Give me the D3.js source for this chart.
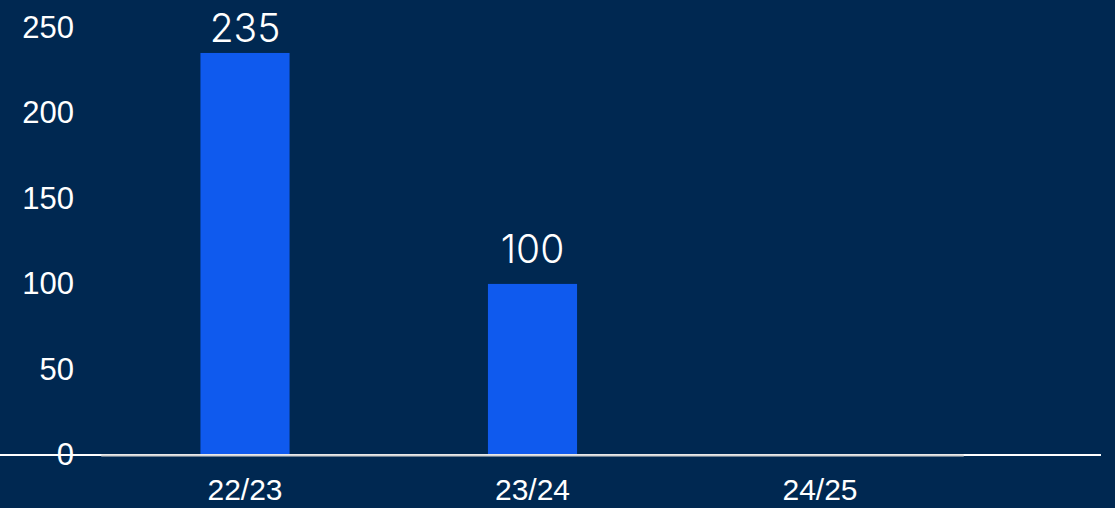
<!DOCTYPE html>
<html>
<head>
<meta charset="utf-8">
<script src="https://cdn.jsdelivr.net/npm/d3@7"></script>
<style>
html,body{margin:0;padding:0;background:#002851;}
svg{display:block;}
</style>
</head>
<body>
<svg id="chart" width="1115" height="508"></svg>
<script>
const categories = ["22/23", "23/24", "24/25"];
const values = [235, 100, 0];
const yTicks = [0, 50, 100, 150, 200, 250];

const W = 1115, H = 508;
const svg = d3.select("#chart");
svg.append("rect").attr("width", W).attr("height", H).attr("fill", "#002851");

const x = d3.scaleBand().domain(categories).range([101.25, 963.75]).paddingInner(0.69).paddingOuter(0.345);
const y = d3.scaleLinear().domain([0, 250]).range([455, 27.3]);

// bars
svg.selectAll("rect.bar").data(values).enter().append("rect")
  .attr("class", "bar")
  .attr("x", (d, i) => x(categories[i]))
  .attr("width", x.bandwidth())
  .attr("y", d => y(d))
  .attr("height", d => y(0) - y(d))
  .attr("fill", "#0F5AEE");

// data labels (kept inside the chart area at the top)
const labelData = values.map((v, i) => ({c: categories[i], v})).filter(d => d.v > 0);
svg.selectAll("text.val").data(labelData).enter().append("text")
  .attr("class", "val")
  .attr("x", d => x(d.c) + x.bandwidth() / 2)
  .attr("y", d => Math.max(y(d.v) - 21, 42))
  .attr("text-anchor", "middle")
  .attr("fill", "#ffffff")
  .attr("font-family", "Inter, 'Open Sans', sans-serif")
  .attr("font-weight", 300)
  .attr("font-size", 39)
  .text(d => d.v);

// baseline
svg.append("line").attr("x1", 0).attr("x2", 1101).attr("y1", y(0)).attr("y2", y(0))
  .attr("stroke", "#ffffff").attr("stroke-width", 2);
svg.append("line").attr("x1", x.range()[0]).attr("x2", x.range()[1]).attr("y1", y(0) + 0.5).attr("y2", y(0) + 0.5)
  .attr("stroke", "#d4d4d4").attr("stroke-width", 2);

// y axis
const yAxis = d3.axisLeft(y).tickValues(yTicks).tickSize(0).tickPadding(0);
const gy = svg.append("g").attr("transform", "translate(74,0)").call(yAxis);
gy.select(".domain").remove();
gy.selectAll("text").attr("fill", "#ffffff")
  .attr("font-family", "Liberation Sans, Arial, sans-serif").attr("font-size", 31);

// x axis
const xAxis = d3.axisBottom(x).tickSize(0).tickPadding(0);
const gx = svg.append("g").attr("transform", "translate(0,479)").call(xAxis);
gx.select(".domain").remove();
gx.selectAll("text").attr("fill", "#ffffff")
  .attr("font-family", "Liberation Sans, Arial, sans-serif").attr("font-size", 30);
</script>
</body>
</html>
